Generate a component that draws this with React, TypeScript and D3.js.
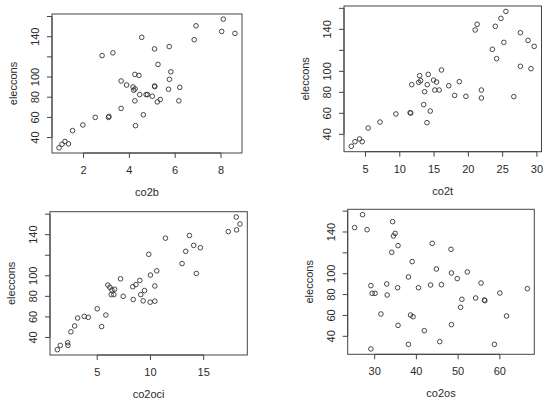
import React from "react";
import * as d3 from "d3";

// ---- data ----
const co2bX = [0.93,1.06,1.19,1.34,1.52,1.97,2.51,3.11,3.09,2.81,3.28,3.64,3.64,3.88,4.16,4.19,4.25,4.24,4.42,4.24,4.27,4.45,4.54,4.61,4.73,4.79,5.0,5.1,5.11,5.1,5.22,5.35,5.25,5.71,5.75,5.81,5.74,6.16,6.2,6.83,6.91,8.03,8.1,8.61];
const co2bY = [29.8,33.4,36.1,33.8,46.9,52.5,60,61,60,121.3,124,68.9,96.1,92.1,90.2,86.9,88.2,102.6,101.6,76.4,51.8,82.6,139.4,62.6,82.6,82.6,81,91.1,90.5,127.9,75.4,77.7,112.5,87.9,97.7,105.2,130.2,76.4,89.8,137,150.8,145.2,157.4,143.3];

const co2tX = [2.93,3.46,4.13,4.52,5.39,7.12,9.43,11.5,11.6,11.74,12.76,13.04,12.9,13.48,13.62,14.0,14.15,13.96,14.44,14.92,15.11,15.36,15.74,16.08,17.14,18.0,18.68,19.64,20.99,21.28,21.9,21.9,23.5,23.93,24.12,24.75,25.18,25.47,26.63,27.59,27.59,28.7,29.13,29.6];
const co2tY = [28.6,33.0,35.6,33.0,46.0,51.7,59.4,60.6,60.3,87.3,89.5,91.1,95.9,68.3,80.6,87.3,97.1,51.1,62.2,91.7,82.2,89.8,82.2,101.3,86.3,77.1,90.2,76.2,139.4,144.8,82.2,74.6,121,142.9,112.1,150.5,127.6,157.1,75.9,136.8,104.8,129.5,102.5,123.8];

const co2ociX = [1.25,1.53,2.22,2.25,2.53,2.88,3.16,3.78,4.16,5.0,5.41,5.81,6.0,6.19,6.31,6.38,6.56,6.63,7.19,7.44,8.34,8.38,8.63,9.0,9.09,9.31,9.44,9.84,9.97,10.0,10.41,10.41,10.59,11.41,12.97,13.31,13.66,14.06,14.31,14.69,17.31,18.06,18.09,18.41];
const co2ociY = [28.1,32.3,34.9,32.3,45.5,51.2,58.9,60.5,59.6,67.9,50.6,61.8,91.0,88.8,81.7,86.2,81.7,86.9,97.1,80.1,89.4,76.9,91.4,95.5,81.7,75.6,85.6,120.9,74.3,100.7,75.3,90.1,104.8,136.6,111.9,123.8,139.2,129.6,102.3,127.3,143.0,157.2,144.7,150.4];

const co2osX = [25.2,27.1,28.2,29.1,29.1,29.4,30.1,31.5,32.9,33.0,34.1,34.3,34.5,34.9,35.5,35.6,35.6,38.1,38.1,38.6,39.2,39.0,40.5,41.9,43.4,43.8,44.8,45.6,46.0,48.3,48.4,48.4,49.8,50.6,50.9,52.2,54.2,55.5,56.3,56.4,58.7,60.0,61.6,66.6];
const co2osY = [144.2,156.6,142.2,88.6,27.9,81.2,81.2,61.4,90.2,79.6,120.5,149.9,136.2,138.7,86.6,126.9,50.5,96.9,32.3,60.4,58.8,111.6,86.6,45.4,89.2,129.1,104.5,34.9,89.5,123.4,100.7,51.2,95.3,67.8,75.5,101.7,76.7,91.1,74.8,74.2,32.3,81.5,59.5,85.7];

const yTicks = [40, 60, 80, 100, 120, 140, 160];
const yTickLabels = ["40", "60", "80", "100", "", "140", ""];
const co2bTicks = [2, 4, 6, 8];
const co2tTicks = [5, 10, 15, 20, 25, 30];
const co2ociTicks = [5, 10, 15];
const co2osTicks = [30, 40, 50, 60];

const yTitle = "eleccons";

type Panel = {
  xs: number[]; ys: number[]; xTicks: number[]; xTitle: string;
  box: [number, number, number, number]; // left, top, right, bottom
};

const panels: Panel[] = [
  { xs: co2bX, ys: co2bY, xTicks: co2bTicks, xTitle: "co2b", box: [52, 14, 242, 153] },
  { xs: co2tX, ys: co2tY, xTicks: co2tTicks, xTitle: "co2t", box: [344, 6, 541.5, 151.7] },
  { xs: co2ociX, ys: co2ociY, xTicks: co2ociTicks, xTitle: "co2oci", box: [50, 211.7, 247.3, 355] },
  { xs: co2osX, ys: co2osY, xTicks: co2osTicks, xTitle: "co2os", box: [347.7, 209.3, 534.3, 354.3] },
];

const FONT = "'Liberation Sans', Arial, Helvetica, sans-serif";
const INK = "#2a2a2a";

function padDomain(v: number[]): [number, number] {
  const [a, b] = d3.extent(v) as [number, number];
  const p = (b - a) * 0.04;
  return [a - p, b + p];
}

function ScatterPanel({ p }: { p: Panel }) {
  const [l, t, r, b] = p.box;
  const x = d3.scaleLinear().domain(padDomain(p.xs)).range([l, r]);
  const y = d3.scaleLinear().domain(padDomain(p.ys)).range([b, t]);
  const tickLen = 5;
  const xt = p.xTicks;
  return (
    <g>
      <rect x={l} y={t} width={r - l} height={b - t} fill="none" stroke="#444" strokeWidth={1} />
      {/* x axis */}
      <line x1={x(xt[0])} x2={x(xt[xt.length - 1])} y1={b} y2={b} stroke="#444" />
      {xt.map((v) => (
        <g key={"xt" + v}>
          <line x1={x(v)} x2={x(v)} y1={b} y2={b + tickLen} stroke="#444" />
          <text x={x(v)} y={b + 21} textAnchor="middle" fontSize={11} fontFamily={FONT} fill={INK}>{String(v)}</text>
        </g>
      ))}
      {/* y axis */}
      <line x1={l} x2={l} y1={y(yTicks[0])} y2={y(yTicks[yTicks.length - 1])} stroke="#444" />
      {yTicks.map((v, i) => (
        <g key={"yt" + v}>
          <line x1={l} x2={l - tickLen} y1={y(v)} y2={y(v)} stroke="#444" />
          {yTickLabels[i] && (
            <text transform={`translate(${l - 13},${y(v)}) rotate(-90)`} textAnchor="middle" fontSize={11} fontFamily={FONT} fill={INK}>{yTickLabels[i]}</text>
          )}
        </g>
      ))}
      {/* titles */}
      <text x={(l + r) / 2} y={b + 43} textAnchor="middle" fontSize={11} fontFamily={FONT} fill={INK}>{p.xTitle}</text>
      <text transform={`translate(${l - 35},${(t + b) / 2}) rotate(-90)`} textAnchor="middle" fontSize={11} fontFamily={FONT} fill={INK}>{yTitle}</text>
      {/* points */}
      {p.xs.map((xv, i) => (
        <circle key={i} cx={x(xv)} cy={y(p.ys[i])} r={2.3} fill="none" stroke="#333" strokeWidth={0.9} />
      ))}
    </g>
  );
}

export default function App() {
  return (
    <svg width={550} height={404} style={{ position: "absolute", left: 0, top: 0, background: "#fff" }}>
      <rect x={0} y={0} width={550} height={404} fill="#fff" />
      {panels.map((p, i) => <ScatterPanel key={i} p={p} />)}
    </svg>
  );
}
